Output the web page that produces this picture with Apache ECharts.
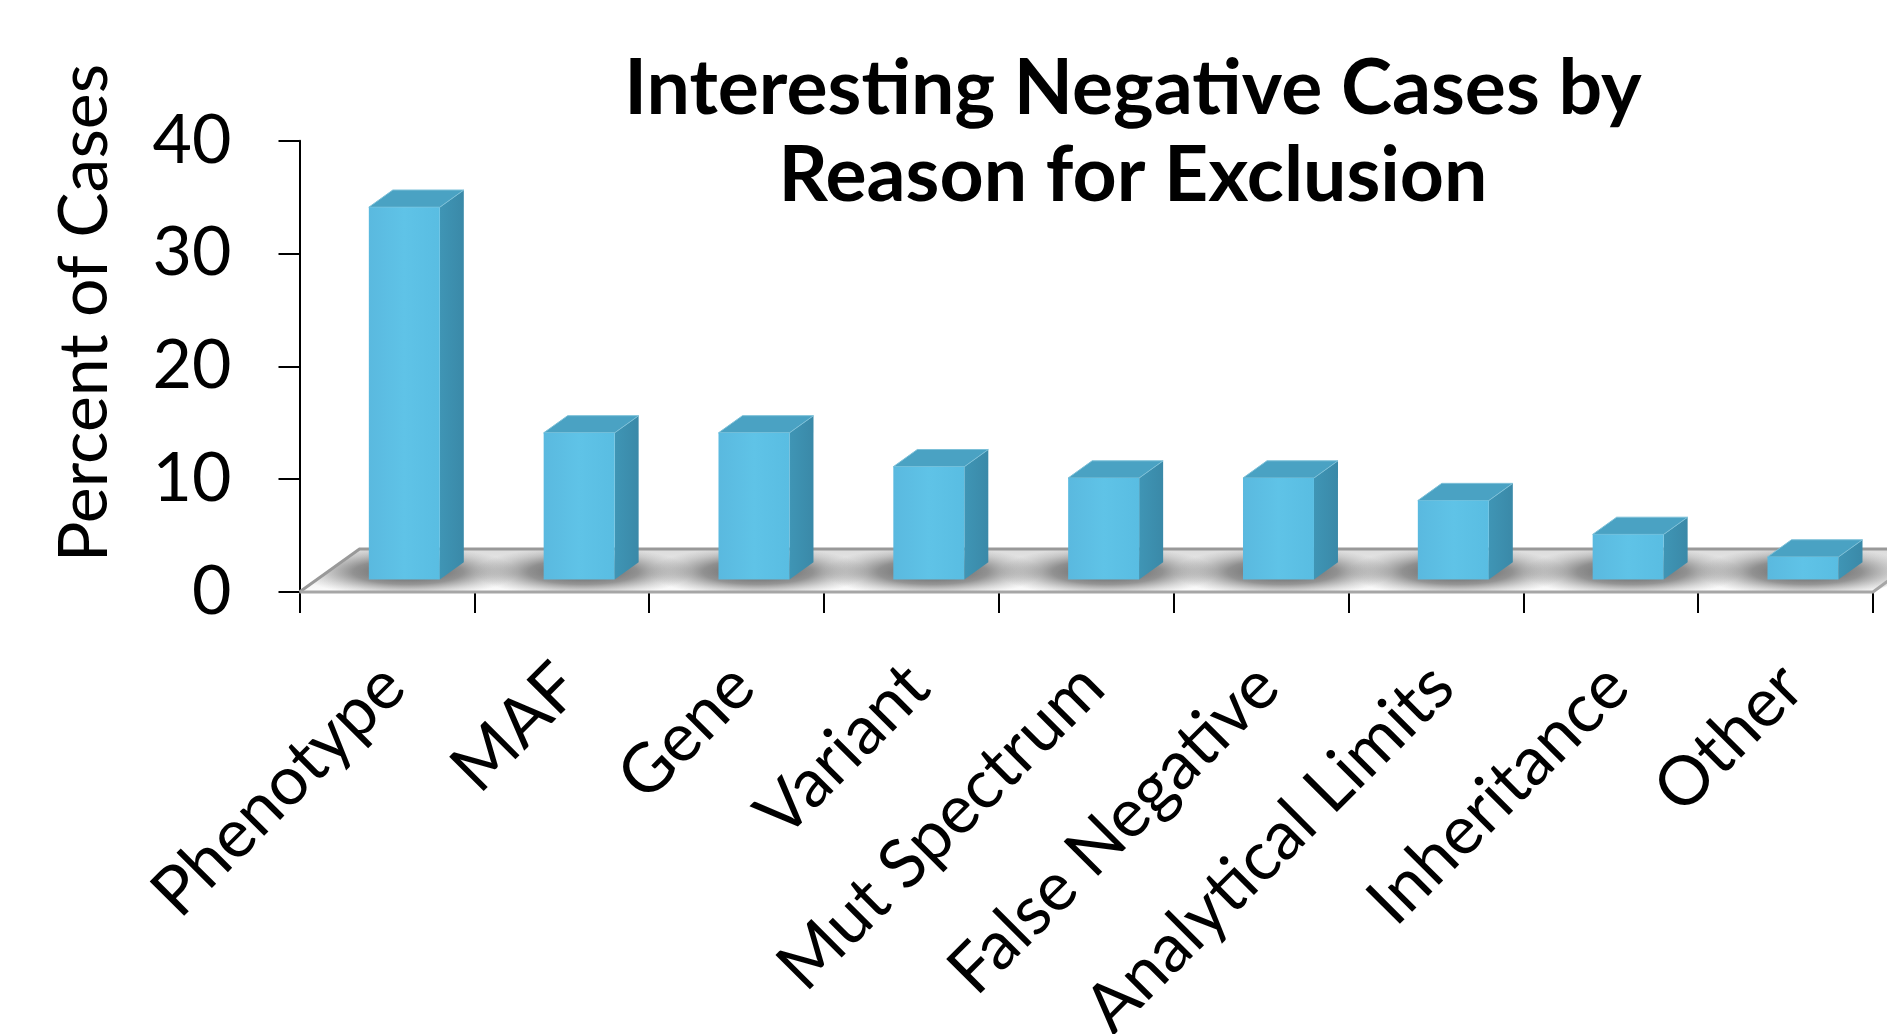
<!DOCTYPE html>
<html><head><meta charset="utf-8">
<script src="https://cdn.jsdelivr.net/npm/echarts@6/dist/echarts.min.js"></script>
<style>html,body{margin:0;padding:0;background:#fff}#c{width:1887px;height:1034px}</style>
</head><body><div id="c"></div>
<script>
const categories = ['Phenotype','MAF','Gene','Variant','Mut Spectrum','False Negative','Analytical Limits','Inheritance','Other'];
const percentOfCases = [33, 13, 13, 10, 9, 9, 7, 4, 2];
const yTicks = [0, 10, 20, 30, 40];
const chartTitle = 'Interesting Negative Cases by\nReason for Exclusion';
const yAxisTitle = 'Percent of Cases';

// 3D projection settings (style, not data)
const DEPTH = [60, -43];
const FRONT_T = 0.29, BACK_T = 0.69, BAR_FRAC = 0.406;
const FONT = 'Lato, "Open Sans", sans-serif';

const chart = echarts.init(document.getElementById('c'), null, {renderer: 'canvas'});

function floorRender(params, api) {
  const cs = params.coordSys;
  const x0 = cs.x, x1 = cs.x + cs.width, yb = cs.y + cs.height;
  const pts = [[x0, yb], [x0 + DEPTH[0], yb + DEPTH[1]], [x1 + DEPTH[0] + 40, yb + DEPTH[1]], [x1, yb]];
  const band = api.size([1, 0])[0];
  const w = band * BAR_FRAC;
  const midT = (FRONT_T + BACK_T) / 2;
  const shadows = categories.map(function (c, i) {
    const b = api.coord([i, 0]);
    const cx = b[0] + DEPTH[0] * midT - 8;
    const cy = b[1] + DEPTH[1] * midT + 1;
    return {
      type: 'circle', shape: {cx: 0, cy: 0, r: 1}, x: cx, y: cy, scaleX: w * 1.55, scaleY: 25,
      style: {fill: new echarts.graphic.RadialGradient(0.5, 0.5, 0.5, [
        {offset: 0, color: 'rgba(50,50,50,0.8)'},
        {offset: 0.5, color: 'rgba(70,70,70,0.55)'},
        {offset: 0.78, color: 'rgba(100,100,100,0.22)'},
        {offset: 1, color: 'rgba(130,130,130,0)'}])}
    };
  });
  return {
    type: 'group',
    children: [
      {type: 'polygon', shape: {points: pts},
       style: {fill: new echarts.graphic.LinearGradient(0, 0, 0, 1, [{offset: 0, color: '#dcdcdc'}, {offset: 0.6, color: '#eeeeee'}, {offset: 1, color: '#fcfcfc'}])}},
      {type: 'group', clipPath: {type: 'polygon', shape: {points: pts}}, children: shadows},
      {type: 'polyline', shape: {points: [pts[0], pts[1], pts[2]]}, style: {stroke: '#999999', lineWidth: 3, fill: null}},
      {type: 'polyline', shape: {points: [pts[0], pts[3], [x1 + 16, yb - 12]]}, style: {stroke: '#a6a6a6', lineWidth: 3, fill: null}}
    ]
  };
}

function barRender(params, api) {
  const i = api.value(0), v = api.value(1);
  const base = api.coord([i, 0]);
  const top = api.coord([i, v]);
  const band = api.size([1, 0])[0];
  const w = band * BAR_FRAC;
  const fx = base[0] - w / 2 + DEPTH[0] * FRONT_T;
  const fy0 = base[1] + DEPTH[1] * FRONT_T;
  const fy1 = top[1] + DEPTH[1] * FRONT_T;
  const dx = DEPTH[0] * (BACK_T - FRONT_T), dy = DEPTH[1] * (BACK_T - FRONT_T);
  return {
    type: 'group',
    children: [
      {type: 'polygon', shape: {points: [[fx + w, fy0], [fx + w + dx, fy0 + dy], [fx + w + dx, fy1 + dy], [fx + w, fy1]]},
       style: {fill: new echarts.graphic.LinearGradient(0, 0, 1, 0, [{offset: 0, color: '#3f95b5'}, {offset: 1, color: '#3a89a8'}])}},
      {type: 'polygon', shape: {points: [[fx, fy1], [fx + dx, fy1 + dy], [fx + w + dx, fy1 + dy], [fx + w, fy1]]},
       style: {fill: '#4aa2c3', stroke: '#7cc0d8', lineWidth: 1}},
      {type: 'rect', shape: {x: fx, y: fy1, width: w, height: fy0 - fy1},
       style: {fill: new echarts.graphic.LinearGradient(0, 0, 1, 0, [{offset: 0, color: '#5ab9df'}, {offset: 0.5, color: '#5fc3e7'}, {offset: 1, color: '#59bde2'}])}}
    ]
  };
}

chart.setOption({
  animation: false,
  backgroundColor: '#fff',
  grid: {left: 299.5, right: 14, top: 140.7, bottom: 442, containLabel: false, outerBoundsMode: 'none'},
  xAxis: {
    type: 'category', data: categories,
    axisLine: {show: false},
    axisTick: {show: true, length: 21, lineStyle: {color: '#000', width: 2}},
    axisLabel: {interval: 0, rotate: 45, align: 'right', verticalAlign: 'top', margin: 42, padding: [0, 25, 0, 0],
      fontSize: 68, color: '#000', fontFamily: FONT}
  },
  yAxis: {
    type: 'value', min: yTicks[0], max: yTicks[yTicks.length - 1], interval: 10,
    splitLine: {show: false},
    axisLine: {show: true, lineStyle: {color: '#000', width: 2}},
    axisTick: {show: true, length: 21, lineStyle: {color: '#000', width: 2}},
    axisLabel: {margin: 68, fontSize: 68, color: '#000', fontFamily: FONT}
  },
  graphic: [
    {type: 'text', x: 1133, y: 133, style: {text: chartTitle, textAlign: 'center', textVerticalAlign: 'middle',
      fontSize: 77, fontWeight: 'bold', lineHeight: 87, fontFamily: FONT, fill: '#000'}},
    {type: 'text', x: 85, y: 313, rotation: Math.PI / 2, style: {text: yAxisTitle, textAlign: 'center', textVerticalAlign: 'middle',
      fontSize: 68, fontFamily: FONT, fill: '#000'}}
  ],
  series: [
    {type: 'custom', name: 'floor', renderItem: floorRender, data: [[0, 0]], silent: true, z: 1},
    {type: 'custom', name: 'Percent of Cases', renderItem: barRender, encode: {x: 0, y: 1},
     data: percentOfCases.map(function (v, i) { return [i, v]; }), z: 3}
  ]
});
</script>
</body></html>
